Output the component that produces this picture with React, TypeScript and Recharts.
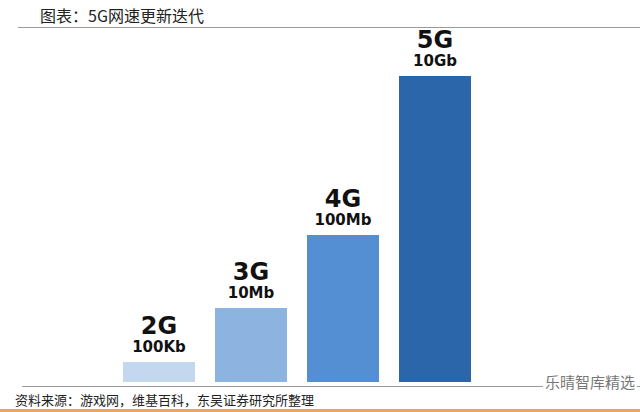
import React from "react"
import { BarChart, Bar, XAxis, YAxis, Cell, LabelList } from "recharts"

// generations and their headline speeds
const generations = ["2G", "3G", "4G", "5G"]
const speeds = ["100Kb", "10Mb", "100Mb", "10Gb"]
// relative bar heights (illustrative, as drawn in the source figure)
const heights = [20, 74, 147, 306]
const colors = ["#c3d7ef", "#8db3e1", "#548fd4", "#2c66aa"]

const data = generations.map((g, i) => ({ name: g, speed: speeds[i], value: heights[i] }))

const font = "'DejaVu Sans', 'Noto Sans CJK SC', sans-serif"
const cjk = "'Noto Sans CJK SC', sans-serif"

const BarLabel = (props: any) => {
  const { x, y, width, index } = props
  const cx = x + width / 2
  return (
    <g>
      <text x={cx} y={y - 28} textAnchor="middle" fontFamily={font} fontWeight="bold" fontSize={24} fill="#111">
        {generations[index]}
      </text>
      <text x={cx} y={y - 10} textAnchor="middle" fontFamily={font} fontWeight="bold" fontSize={15} fill="#111">
        {speeds[index]}
      </text>
    </g>
  )
}

export default function App() {
  return (
    <div style={{ position: "absolute", left: 0, top: 0, width: 640, height: 412, background: "#fff", overflow: "hidden" }}>
      <div style={{ position: "absolute", left: 40, top: 5, fontFamily: cjk, fontSize: 16, color: "#222", lineHeight: "20px" }}>
        图表：5G网速更新迭代
      </div>
      <div style={{ position: "absolute", left: 18, top: 27, width: 622, height: 1, background: "#9a9a9a" }} />
      <BarChart width={640} height={412} data={data} margin={{ top: 76, right: 159, bottom: 30, left: 113 }} barCategoryGap={10}>
        <XAxis dataKey="name" hide />
        <YAxis hide domain={[0, 306]} />
        <Bar dataKey="value" isAnimationActive={false}>
          {data.map((d, i) => (
            <Cell key={d.name} fill={colors[i]} />
          ))}
          <LabelList dataKey="value" content={BarLabel} />
        </Bar>
      </BarChart>
      <div style={{ position: "absolute", left: 22, top: 386, width: 618, height: 1, background: "#9a9a9a" }} />
      <div style={{ position: "absolute", left: 543, top: 372, fontFamily: cjk, fontSize: 15, color: "#777", lineHeight: "20px", background: "#fff", padding: "0 2px" }}>
        乐晴智库精选
      </div>
      <div style={{ position: "absolute", left: 15, top: 391, fontFamily: cjk, fontSize: 13, color: "#222", lineHeight: "18px" }}>
        资料来源：游戏网，维基百科，东吴证券研究所整理
      </div>
      <div style={{ position: "absolute", left: 0, top: 409, width: 640, height: 3, background: "#e9a468" }} />
    </div>
  )
}
